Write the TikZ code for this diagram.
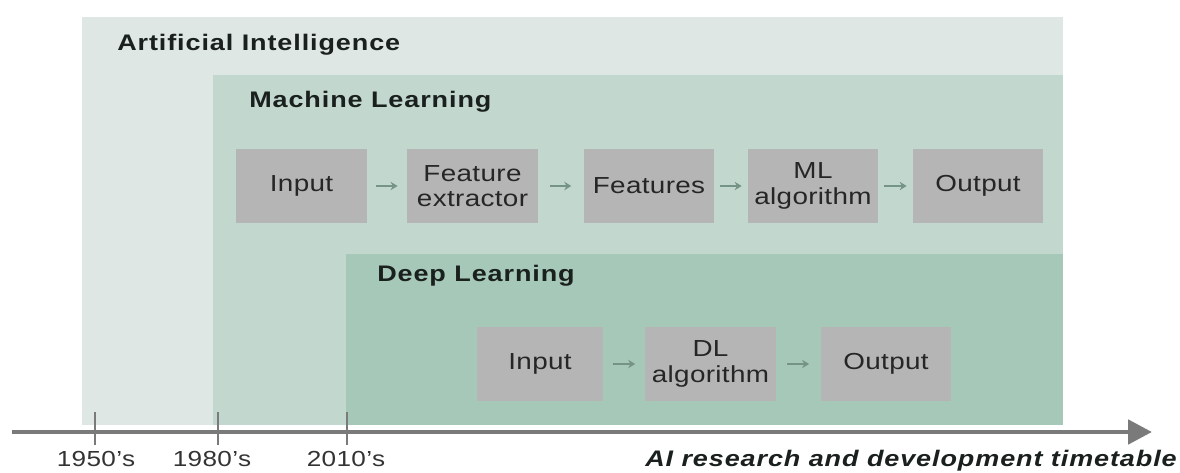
\documentclass[tikz,border=0pt]{standalone}
\usepackage{fontspec}
\setmainfont{Liberation Sans}[FakeStretch=1.2, LetterSpace=1.5,
  BoldFeatures={LetterSpace=4}, BoldItalicFeatures={LetterSpace=4}]
\usepackage{tikz}
\usetikzlibrary{positioning}
\usetikzlibrary{arrows.meta}

\definecolor{aifill}{RGB}{222,231,228}
\definecolor{mlfill}{RGB}{194,216,206}
\definecolor{dlfill}{RGB}{166,200,185}
\definecolor{boxgray}{RGB}{181,181,181}
\definecolor{flowgreen}{RGB}{118,148,134}
\definecolor{axisgray}{RGB}{122,122,122}
\definecolor{inktext}{RGB}{26,32,29}

\tikzset{
  stepbox/.style={fill=boxgray, minimum width=3.25cm, minimum height=1.825cm,
    inner sep=0pt, align=center, text=black!85, font=\fontsize{16.5}{18}\selectfont},
  areatitle/.style={anchor=west, inner sep=0pt, text=inktext,
    font=\fontsize{16}{18}\bfseries},
  flow/.style={draw=flowgreen, line width=1.6pt, -{Stealth[length=5pt,width=6pt]},
    shorten <=#1, shorten >=#1},
  yearlbl/.style={inner sep=0pt, text=black!80, font=\fontsize{15.5}{17}\selectfont}
}

\begin{document}
\begin{tikzpicture}[x=0.025cm, y=-0.025cm]
  \useasboundingbox (0,0) rectangle (1180,473);

  % nested areas
  \fill[aifill] (82,17)  rectangle (1063,425);
  \fill[mlfill] (213,75) rectangle (1063,425);
  \fill[dlfill] (346,254) rectangle (1063,425);

  \node[areatitle] (aititle) at (117,45)  {Artificial Intelligence};
  \node[areatitle] (mltitle) at (249,102) {Machine Learning};
  \node[areatitle] (dltitle) at (377,276) {Deep Learning};

  % machine learning pipeline
  \node[stepbox] (mlin)   at (301.5,186) {Input};
  \node[stepbox] (mlfe)   at (472.5,186) {Feature\\extractor};
  \node[stepbox] (mlfeat) at (649,186)   {Features};
  \node[stepbox] (mlalg)  at (813,186)   {ML\\algorithm};
  \node[stepbox] (mlout)  at (978,186)   {Output};

  \draw[flow=0.24cm] (mlin)   -- (mlfe);
  \draw[flow=0.31cm] (mlfe)   -- (mlfeat);
  \draw[flow=0.15cm] (mlfeat) -- (mlalg);
  \draw[flow=0.15cm] (mlalg)  -- (mlout);

  % deep learning pipeline
  \node[stepbox, minimum width=3.15cm] (dlin) at (540,364) {Input};
  \node[stepbox] (dlalg) at (710.5,364) {DL\\algorithm};
  \node[stepbox] (dlout) at (886,364)   {Output};

  \draw[flow=0.25cm] (dlin)  -- (dlalg);
  \draw[flow=0.29cm] (dlalg) -- (dlout);

  % timeline
  \coordinate (tstart) at (12,432);
  \coordinate (tend)   at (1152,432);
  \draw[axisgray, line width=3.5pt, -{Triangle[length=17pt,width=17pt]}] (tstart) -- (tend);
  \draw[axisgray, line width=1pt] (95,412)  -- (95,445);
  \draw[axisgray, line width=1pt] (218,412) -- (218,445);
  \draw[axisgray, line width=1pt] (347,412) -- (347,445);

  \node[yearlbl] (y1950) at (96,459)  {1950's};
  \node[yearlbl] (y1980) at (212,459) {1980's};
  \node[yearlbl] (y2010) at (346,459) {2010's};
  \node[anchor=east, inner sep=0pt, text=inktext, font=\fontsize{16}{18}\bfseries\itshape]
    (timetable) at (1177,461) {AI research and development timetable};
\end{tikzpicture}
\end{document}
